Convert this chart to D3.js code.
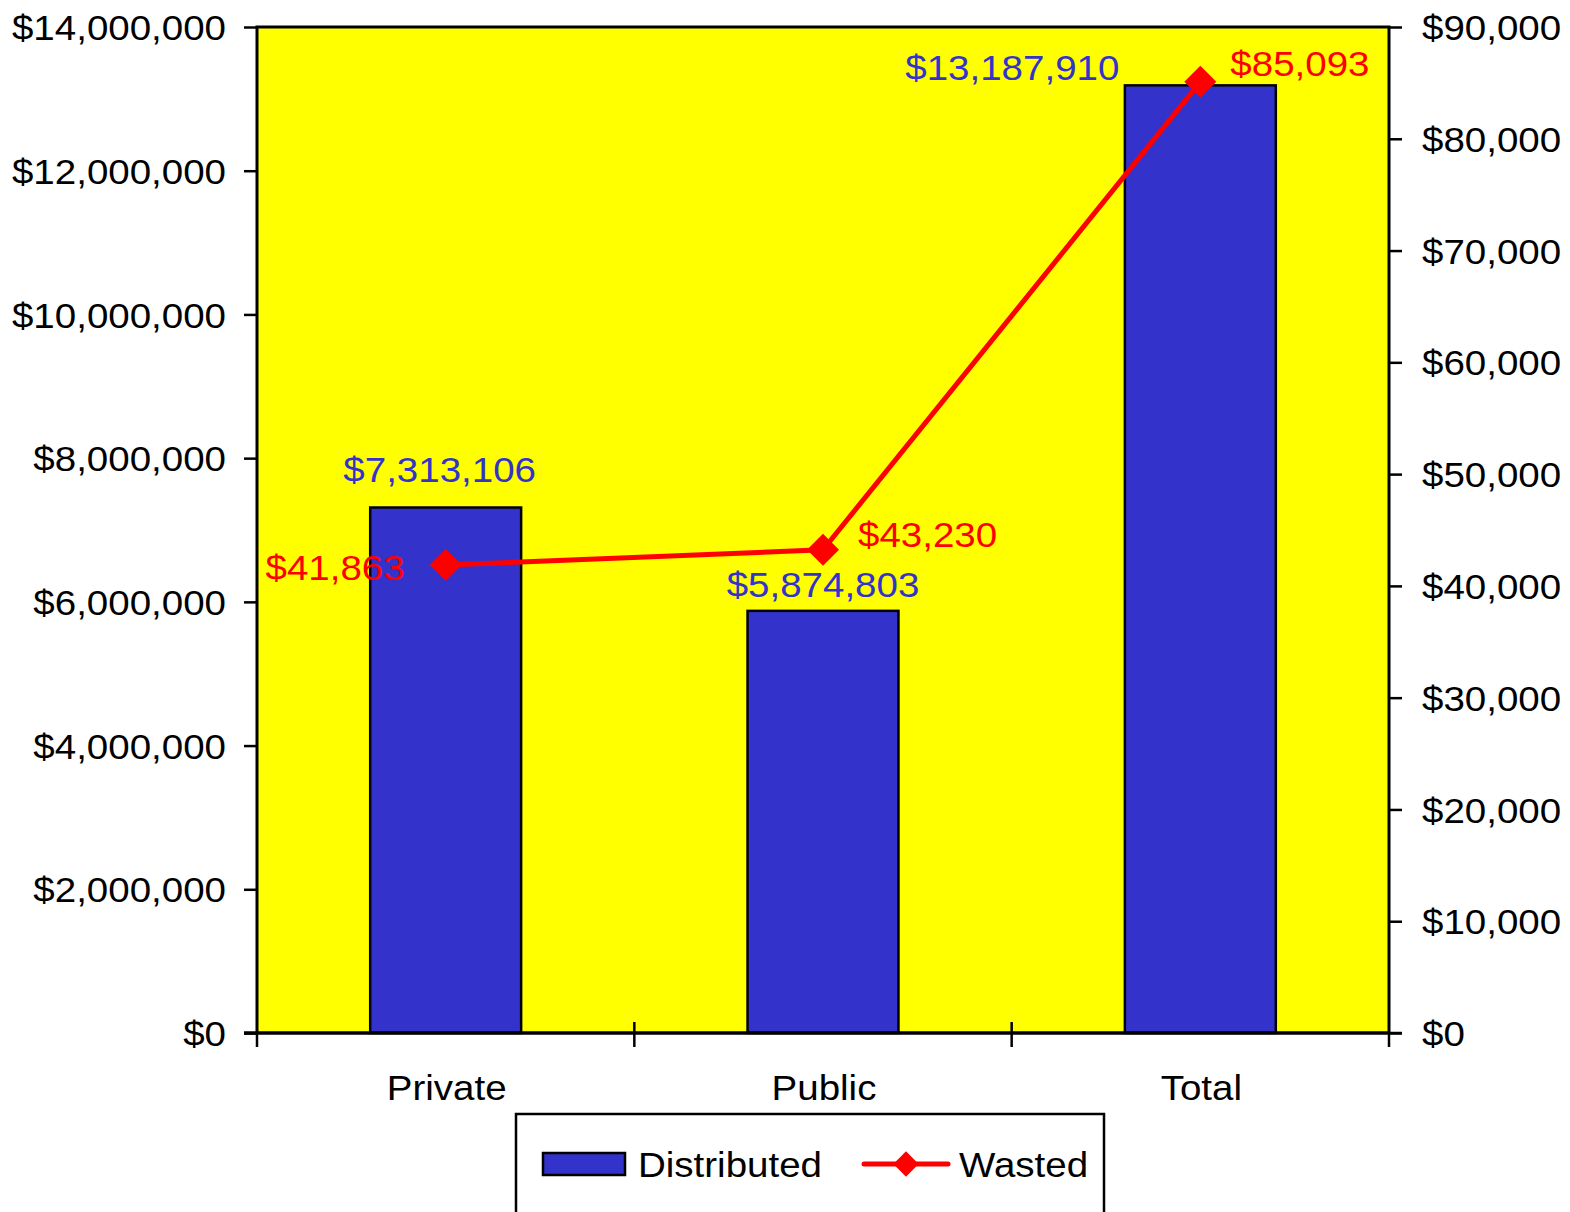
<!DOCTYPE html>
<html><head><meta charset="utf-8">
<script src="https://cdn.jsdelivr.net/npm/d3@7"></script>
<style>
body{margin:0;background:#fff}svg{display:block}
text{font-family:"Liberation Sans",Arial,sans-serif;transform-box:fill-box}
.se{transform:scaleX(1.1);transform-origin:right center}
.sm{transform:scaleX(1.1);transform-origin:center center}
.ss{transform:scaleX(1.1);transform-origin:left center}
</style>
</head><body>
<svg id="c" width="1570" height="1212"></svg>
<script>
const categories = ["Private", "Public", "Total"];
const distributed = [7313106, 5874803, 13187910];
const wasted = [41863, 43230, 85093];
const leftTicks = [0, 2000000, 4000000, 6000000, 8000000, 10000000, 12000000, 14000000];
const rightTicks = [0, 10000, 20000, 30000, 40000, 50000, 60000, 70000, 80000, 90000];
const seriesNames = ["Distributed", "Wasted"];

const svg = d3.select("#c");
const L = 257, R = 1389, T = 27, B = 1033;
const FS = 35;
const fmt = d3.format("$,.0f");
const x = d3.scaleBand().domain(categories).range([L, R]).paddingInner(0.6).paddingOuter(0.3);
const xb = d3.scaleBand().domain(categories).range([L, R]);
const yL = d3.scaleLinear().domain([0, 14000000]).range([B, T]);
const yR = d3.scaleLinear().domain([0, 90000]).range([B, T]);

svg.append("rect").attr("x", L).attr("y", T).attr("width", R - L).attr("height", B - T).attr("fill", "#FFFF00");

// bars
svg.selectAll(".bar").data(categories).enter().append("rect")
  .attr("x", d => x(d)).attr("y", (d, i) => yL(distributed[i]))
  .attr("width", x.bandwidth()).attr("height", (d, i) => B - yL(distributed[i]))
  .attr("fill", "#3333CC").attr("stroke", "#000").attr("stroke-width", 2.5);

// border lines
svg.append("path").attr("d", `M${L},${B}V${T}H${R}V${B}`).attr("fill", "none").attr("stroke", "#000").attr("stroke-width", 3);

// left axis
const ax = svg.append("g").attr("transform", `translate(${L},0)`)
  .call(d3.axisLeft(yL).tickValues(leftTicks).tickFormat(fmt).tickSize(13).tickPadding(18));
ax.select(".domain").remove();
ax.selectAll("line").attr("stroke", "#000").attr("stroke-width", 2.5);
ax.selectAll("text").attr("font-size", FS).attr("fill", "#000").attr("dy", "0.36em").attr("class", "se");

const ar = svg.append("g").attr("transform", `translate(${R},0)`)
  .call(d3.axisRight(yR).tickValues(rightTicks).tickFormat(fmt).tickSize(13).tickPadding(20));
ar.select(".domain").remove();
ar.selectAll("line").attr("stroke", "#000").attr("stroke-width", 2.5);
ar.selectAll("text").attr("font-size", FS).attr("fill", "#000").attr("dy", "0.36em").attr("class", "ss");

// x axis
svg.append("line").attr("x1", L - 13).attr("x2", R).attr("y1", B).attr("y2", B).attr("stroke", "#000").attr("stroke-width", 3.5);
const bounds = [L].concat(categories.map(c => xb(c) + xb.bandwidth()));
svg.selectAll(".xt").data(bounds).enter().append("line")
  .attr("x1", d => d).attr("x2", d => d)
  .attr("y1", (d, i) => (i === 0 || i === bounds.length - 1) ? B : B - 11)
  .attr("y2", B + 14).attr("stroke", "#000").attr("stroke-width", 2.5);
svg.append("line").attr("x1", R).attr("x2", R + 13).attr("y1", B).attr("y2", B).attr("stroke", "#000").attr("stroke-width", 2.5);
svg.selectAll(".xl").data(categories).enter().append("text")
  .attr("class", "sm")
  .attr("x", d => xb(d) + xb.bandwidth() / 2 + 1).attr("y", B + 67)
  .attr("text-anchor", "middle").attr("font-size", FS).attr("fill", "#000").text(d => d);

// distributed labels
const dOff = [[-6, -25], [0, -14], [-188, -5]];
svg.selectAll(".dl").data(categories).enter().append("text")
  .attr("class", "sm")
  .attr("x", (d, i) => x(d) + x.bandwidth() / 2 + dOff[i][0])
  .attr("y", (d, i) => yL(distributed[i]) + dOff[i][1])
  .attr("text-anchor", "middle").attr("font-size", FS).attr("fill", "#3333CC")
  .text((d, i) => fmt(distributed[i]));

// line
const cx = d => xb(d) + xb.bandwidth() / 2;
svg.append("path").datum(categories)
  .attr("d", d3.line().x(d => cx(d)).y((d, i) => yR(wasted[i])))
  .attr("fill", "none").attr("stroke", "#FF0000").attr("stroke-width", 5).attr("stroke-linejoin", "round");
const diamond = d3.symbol().type(d3.symbolSquare).size(512);
svg.selectAll(".pt").data(categories).enter().append("path")
  .attr("d", diamond)
  .attr("transform", (d, i) => `translate(${cx(d)},${yR(wasted[i])}) rotate(45)`)
  .attr("fill", "#FF0000");

// wasted labels
const wOff = [[-41, 15, "end", "se"], [35, -3, "start", "ss"], [30, -6, "start", "ss"]];
svg.selectAll(".wl").data(categories).enter().append("text")
  .attr("class", (d, i) => wOff[i][3])
  .attr("x", (d, i) => cx(d) + wOff[i][0])
  .attr("y", (d, i) => yR(wasted[i]) + wOff[i][1])
  .attr("text-anchor", (d, i) => wOff[i][2]).attr("font-size", FS).attr("fill", "#FF0000")
  .text((d, i) => fmt(wasted[i]));

// legend
const lg = svg.append("g");
lg.append("rect").attr("x", 516).attr("y", 1114).attr("width", 588).attr("height", 110)
  .attr("fill", "#fff").attr("stroke", "#000").attr("stroke-width", 2.5);
lg.append("rect").attr("x", 543).attr("y", 1153).attr("width", 82).attr("height", 22)
  .attr("fill", "#3333CC").attr("stroke", "#000").attr("stroke-width", 2.5);
lg.append("text").attr("class", "ss").attr("x", 638).attr("y", 1177).attr("font-size", 35).attr("fill", "#000").text(seriesNames[0]);
lg.append("line").attr("x1", 864).attr("x2", 948).attr("y1", 1164).attr("y2", 1164)
  .attr("stroke", "#FF0000").attr("stroke-width", 5).attr("stroke-linecap", "round");
lg.append("path").attr("d", d3.symbol().type(d3.symbolSquare).size(320))
  .attr("transform", "translate(906,1164) rotate(45)").attr("fill", "#FF0000");
lg.append("text").attr("class", "ss").attr("x", 959).attr("y", 1177).attr("font-size", 35).attr("fill", "#000").text(seriesNames[1]);
</script>
</body></html>
